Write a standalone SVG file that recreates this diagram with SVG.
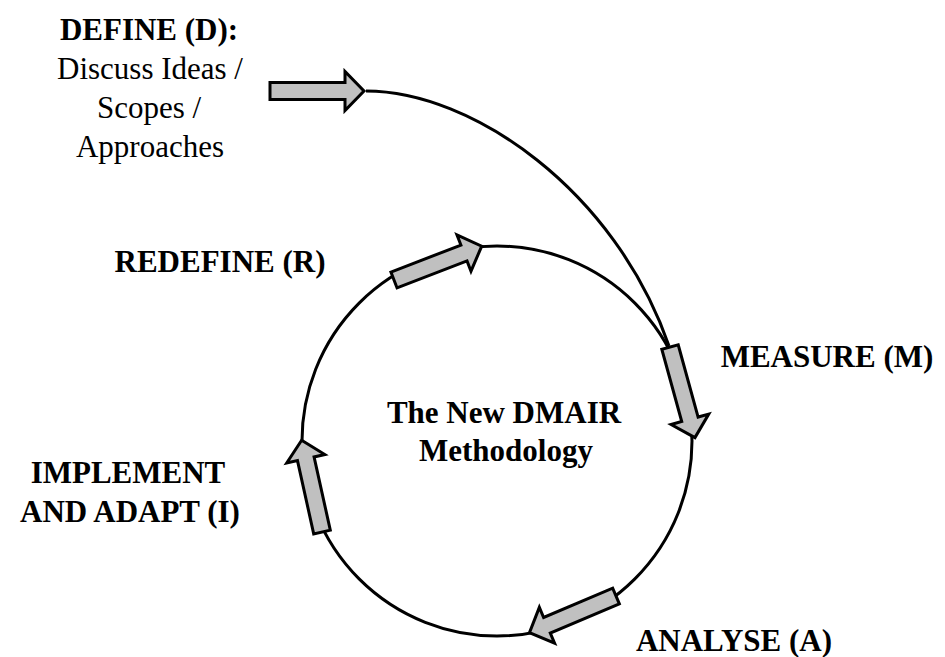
<svg xmlns="http://www.w3.org/2000/svg" width="945" height="657" viewBox="0 0 945 657">
<style>
.line{fill:none;stroke:#000;stroke-width:3}
.arr{fill:#c0c0c0;stroke:#000;stroke-width:3;stroke-linejoin:miter}
.b{font-family:"Liberation Serif","Times New Roman",serif;font-weight:bold;font-size:31px;fill:#000;text-anchor:middle}
.n{font-family:"Liberation Serif","Times New Roman",serif;font-size:31px;fill:#000;text-anchor:middle}
</style>
<defs>
<path id="blk" d="M0,-8.5 L75,-8.5 L75,-19.5 L94,0 L75,19.5 L75,8.5 L0,8.5 Z"/>
</defs>
<rect width="945" height="657" fill="#fff"/>
<g id="connectors">
<circle class="line" cx="497" cy="441" r="195"/>
<path class="line" d="M366,91 C472,91 615,190 669,346"/>
</g>
<g id="define">
<text class="b" x="149" y="40">DEFINE (D):</text>
<text class="n" x="150" y="79">Discuss Ideas /</text>
<text class="n" x="149" y="118">Scopes /</text>
<text class="n" x="150" y="157">Approaches</text>
<use href="#blk" class="arr" transform="translate(270,91)"/>
</g>
<g id="measure">
<text class="b" x="827" y="367">MEASURE (M)</text>
<use href="#blk" class="arr" transform="translate(670,347) rotate(74.6)"/>
</g>
<g id="analyse">
<text class="b" x="734" y="651">ANALYSE (A)</text>
<use href="#blk" class="arr" transform="translate(616,596) rotate(157)"/>
</g>
<g id="implement">
<text class="b" x="128" y="483">IMPLEMENT</text>
<text class="b" x="130" y="522">AND ADAPT (I)</text>
<use href="#blk" class="arr" transform="translate(322,532) rotate(-102.5)"/>
</g>
<g id="redefine">
<text class="b" x="220" y="272">REDEFINE (R)</text>
<use href="#blk" class="arr" transform="translate(394,280) rotate(-21.1)"/>
</g>
<g id="center">
<text class="b" x="504" y="423">The New DMAIR</text>
<text class="b" x="506" y="461">Methodology</text>
</g>
</svg>
